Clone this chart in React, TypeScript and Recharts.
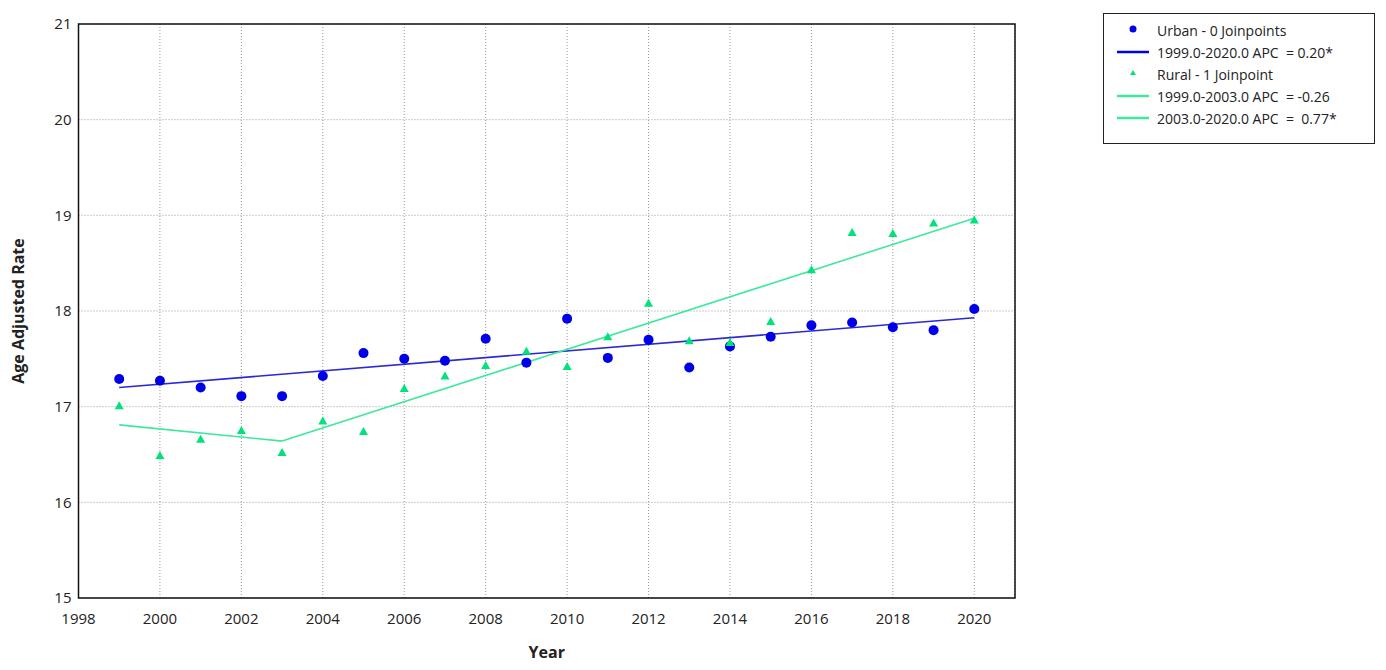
import { ComposedChart, Line, Scatter, XAxis, YAxis, CartesianGrid, ReferenceArea } from 'recharts';

const years = [1999, 2000, 2001, 2002, 2003, 2004, 2005, 2006, 2007, 2008, 2009, 2010, 2011, 2012, 2013, 2014, 2015, 2016, 2017, 2018, 2019, 2020];
const urbanRate = [17.29, 17.27, 17.2, 17.11, 17.11, 17.32, 17.56, 17.5, 17.48, 17.71, 17.46, 17.92, 17.51, 17.7, 17.41, 17.63, 17.73, 17.85, 17.88, 17.83, 17.8, 18.02];
const ruralRate = [17.01, 16.49, 16.66, 16.75, 16.52, 16.85, 16.74, 17.19, 17.32, 17.43, 17.58, 17.42, 17.73, 18.08, 17.69, 17.67, 17.89, 18.43, 18.82, 18.81, 18.92, 18.95];

// fitted segments (endpoints)
const urbanFit: Record<number, number> = { 1999: 17.2, 2020: 17.93 };
const ruralFitA: Record<number, number> = { 1999: 16.81, 2003: 16.64 };
const ruralFitB: Record<number, number> = { 2003: 16.64, 2020: 18.97 };

const xTicks = [1998, 2000, 2002, 2004, 2006, 2008, 2010, 2012, 2014, 2016, 2018, 2020];
const yTicks = [15, 16, 17, 18, 19, 20, 21];

const legendItems = [
  { label: 'Urban - 0 Joinpoints', kind: 'circle' },
  { label: '1999.0-2020.0 APC  = 0.20*', kind: 'urbanLine' },
  { label: 'Rural - 1 Joinpoint', kind: 'triangle' },
  { label: '1999.0-2003.0 APC  = -0.26', kind: 'ruralLine' },
  { label: '2003.0-2020.0 APC  =  0.77*', kind: 'ruralLine' },
];

const URBAN_DOT = '#0000e8';
const URBAN_LINE = '#2a2ad0';
const RURAL_DOT = '#00e27a';
const RURAL_LINE = '#3ee89c';
const FONT = '"Open Sans", "Noto Sans", sans-serif';

const data = years.map((year, i) => ({
  year,
  urban: urbanRate[i],
  rural: ruralRate[i],
  urbanFit: urbanFit[year] ?? null,
  ruralFitA: ruralFitA[year] ?? null,
  ruralFitB: ruralFitB[year] ?? null,
}));

const Triangle = (props: any) => {
  const { cx, cy } = props;
  if (cx == null || cy == null) return null;
  return <polygon points={`${cx},${cy - 4.5} ${cx + 4.5},${cy + 3.5} ${cx - 4.5},${cy + 3.5}`} fill={RURAL_DOT} />;
};

const Dot = (props: any) => {
  const { cx, cy } = props;
  if (cx == null || cy == null) return null;
  return <circle cx={cx} cy={cy} r={5} fill={URBAN_DOT} />;
};

const LegendBox = () => (
  <div style={{ position: 'absolute', left: 1095, top: 5, border: '1.5px solid #222', width: 272, height: 131, boxSizing: 'border-box', paddingTop: 5, fontFamily: FONT, fontSize: 14, color: '#222' }}>
    {legendItems.map((item) => (
      <div key={item.label} style={{ display: 'flex', alignItems: 'center', height: 22, whiteSpace: 'pre' }}>
        <svg width={53} height={22} style={{ flexShrink: 0 }}>
          {item.kind === 'circle' && <circle cx={29} cy={10} r={3.5} fill={URBAN_DOT} />}
          {item.kind === 'triangle' && <polygon points="29,7 32,12 26,12" fill={RURAL_DOT} />}
          {item.kind === 'urbanLine' && <line x1={13} x2={45} y1={11} y2={11} stroke={URBAN_DOT} strokeWidth={2.5} />}
          {item.kind === 'ruralLine' && <line x1={13} x2={45} y1={11} y2={11} stroke={RURAL_LINE} strokeWidth={2.5} />}
        </svg>
        <span>{item.label}</span>
      </div>
    ))}
  </div>
);

export default function App() {
  return (
    <div style={{ position: 'relative', width: 1370, height: 662 }}>
      <ComposedChart width={1370} height={662} data={data} margin={{ top: 16, right: 363, left: 0, bottom: 10 }}>
        <CartesianGrid stroke="#999" strokeDasharray="1 2" />
        <XAxis
          dataKey="year"
          type="number"
          domain={[1998, 2021]}
          ticks={xTicks}
          tickLine={false}
          axisLine={false}
          tickSize={0}
          tickMargin={15}
          height={62}
          tick={{ fill: '#222', fontSize: 15, fontFamily: FONT }}
          label={{ value: 'Year', position: 'insideBottom', offset: 2, style: { fontWeight: 'bold', fontSize: 16, fill: '#222', fontFamily: FONT } }}
        />
        <YAxis
          type="number"
          domain={[15, 21]}
          ticks={yTicks}
          tickLine={false}
          axisLine={false}
          tickSize={0}
          tickMargin={7}
          width={70.5}
          tick={{ fill: '#222', fontSize: 15, fontFamily: FONT }}
          label={{ value: 'Age Adjusted Rate', angle: -90, position: 'insideLeft', offset: 10, style: { textAnchor: 'middle', fontWeight: 'bold', fontSize: 16, fill: '#222', fontFamily: FONT } }}
        />
        <ReferenceArea x1={1998} x2={2021} y1={15} y2={21} fill="none" stroke="#111" strokeWidth={1.5} ifOverflow="visible" />
        <Line dataKey="urbanFit" stroke={URBAN_LINE} strokeWidth={1.6} dot={false} connectNulls isAnimationActive={false} />
        <Line dataKey="ruralFitA" stroke={RURAL_LINE} strokeWidth={1.6} dot={false} connectNulls isAnimationActive={false} />
        <Line dataKey="ruralFitB" stroke={RURAL_LINE} strokeWidth={1.6} dot={false} connectNulls isAnimationActive={false} />
        <Scatter dataKey="urban" shape={<Dot />} isAnimationActive={false} />
        <Scatter dataKey="rural" shape={<Triangle />} isAnimationActive={false} />
      </ComposedChart>
      <LegendBox />
    </div>
  );
}
